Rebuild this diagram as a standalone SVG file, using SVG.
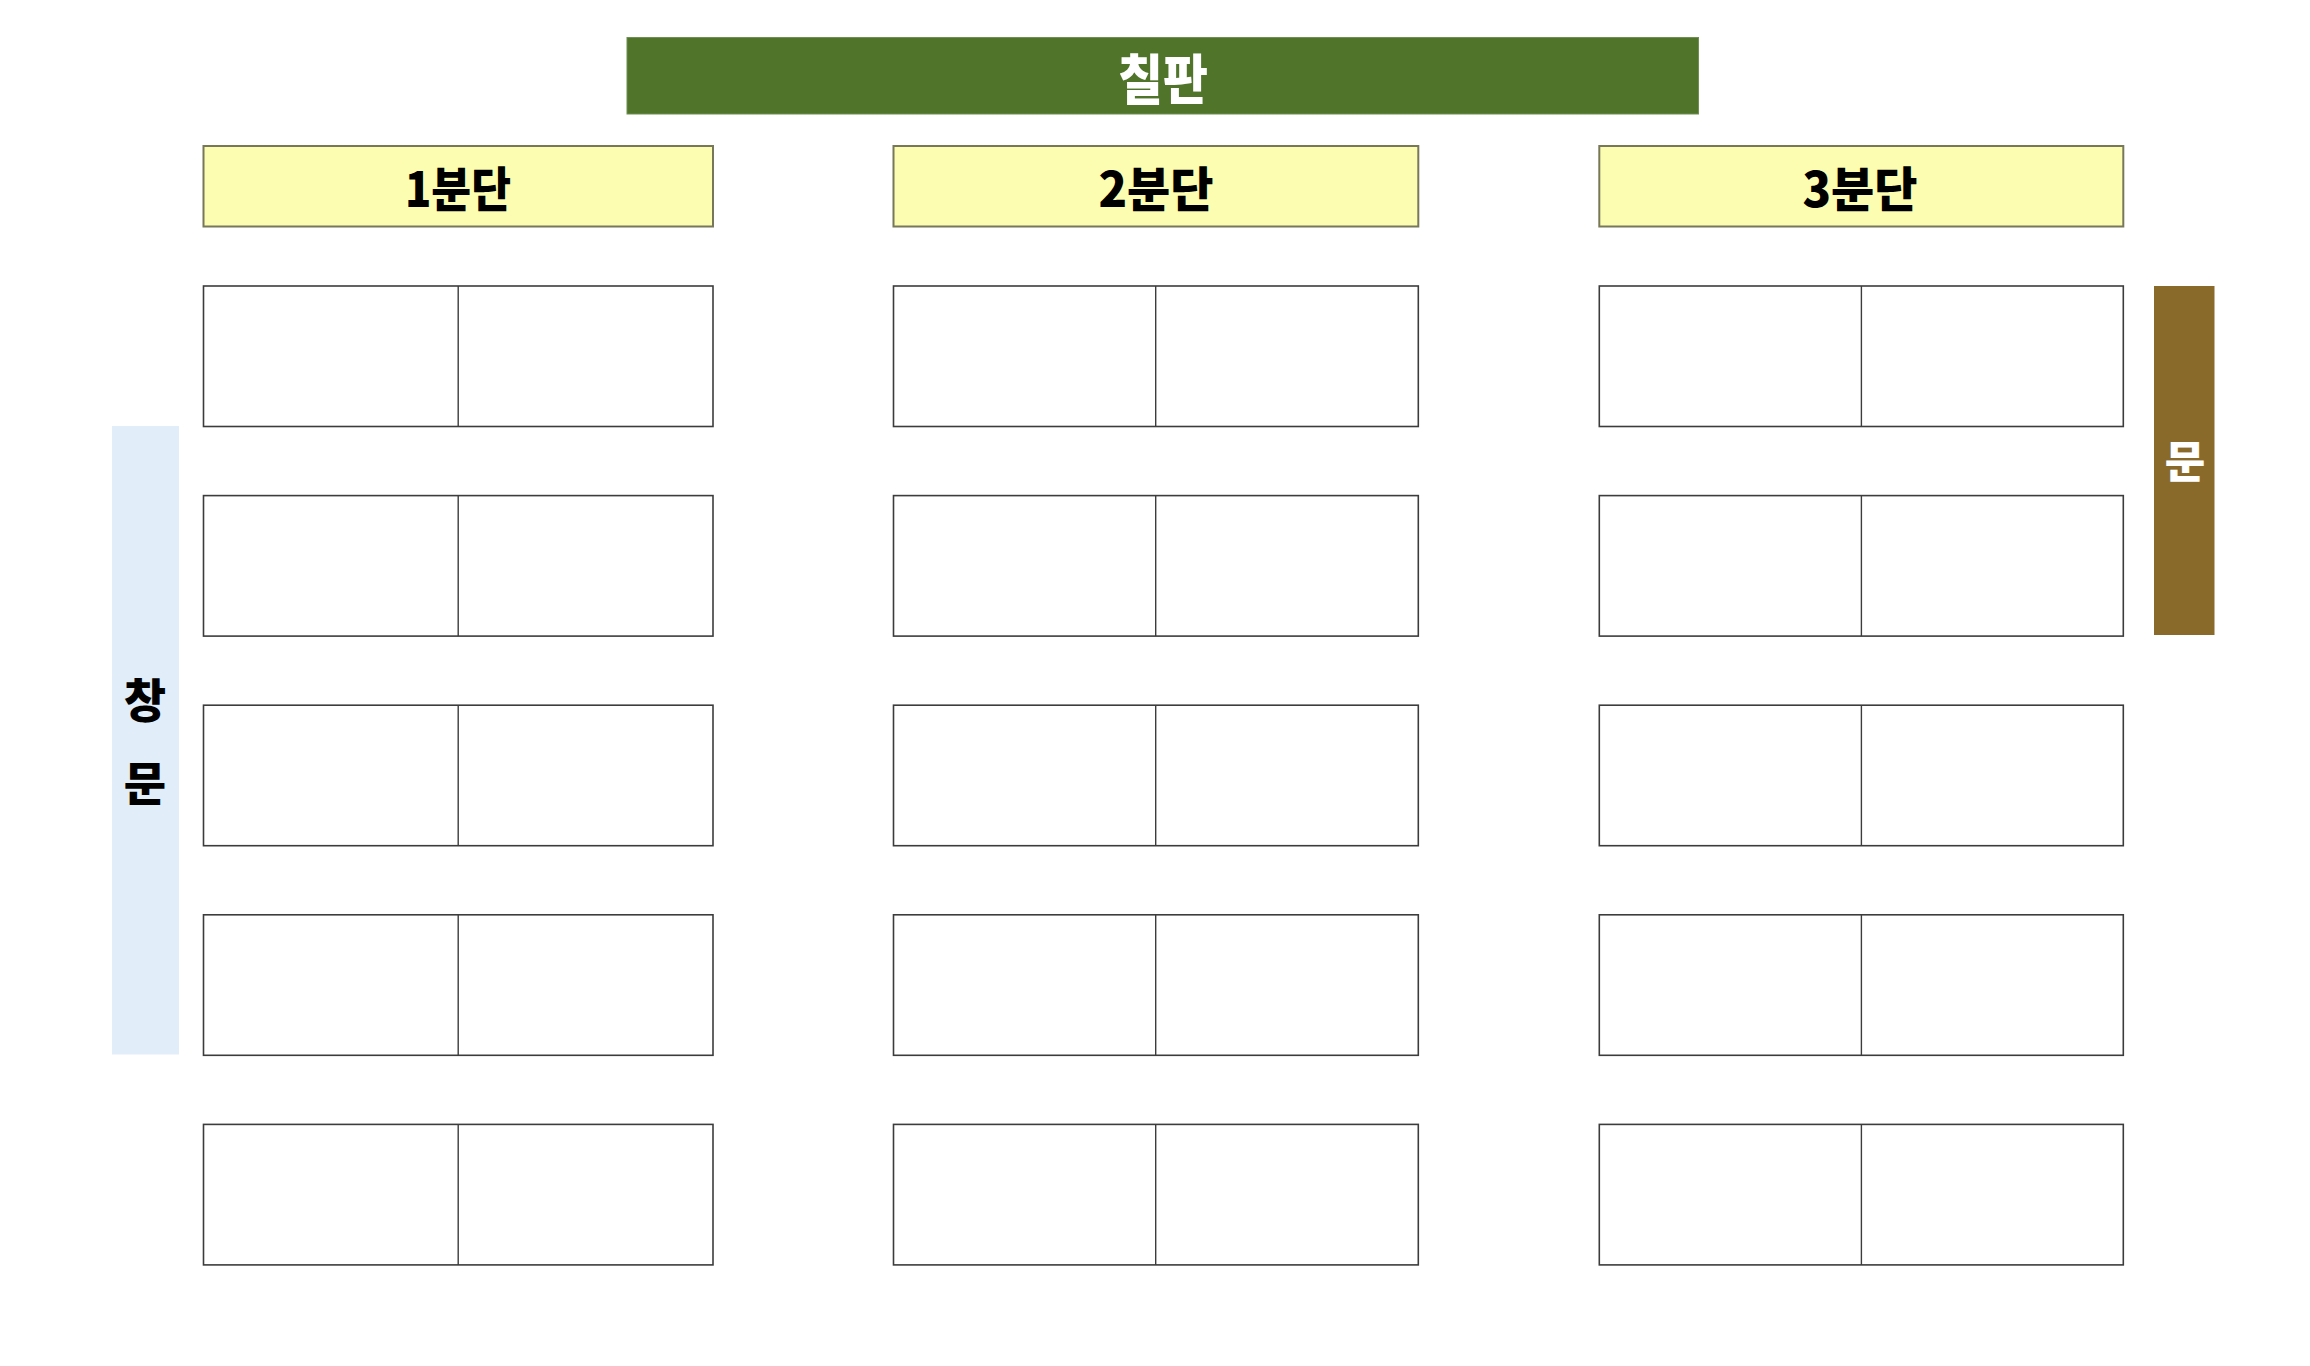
<svg xmlns="http://www.w3.org/2000/svg" width="2310" height="1366" viewBox="0 0 2310 1366">
  <style>
    .desk { fill: #ffffff; stroke: #3c3c3c; stroke-width: 1.6; }
    .split { stroke: #3c3c3c; stroke-width: 1.4; }
    .hdr { fill: #fcfdb0; stroke: #77775a; stroke-width: 2; }
    .hdrtxt { font-family: "Noto Sans CJK KR", "Noto Sans", sans-serif; font-weight: 900; font-size: 48px; fill: #000000; text-anchor: middle; }
    .big { font-family: "Noto Sans CJK KR", "Noto Sans", sans-serif; font-weight: 900; text-anchor: middle; }
  </style>
  <rect x="0" y="0" width="2310" height="1366" fill="#ffffff"/>

  <g id="blackboard">
    <rect x="627" y="37.5" width="1071.5" height="76.5" fill="#4f742a" stroke="#6f9050" stroke-width="1"/>
    <text class="big" x="1163" y="100" font-size="54" fill="#ffffff" textLength="90" lengthAdjust="spacingAndGlyphs">칠판</text>
  </g>

  <g id="header-1">
    <rect class="hdr" x="203.5" y="146" width="509.5" height="80.5"/>
    <text class="hdrtxt" x="458" y="207" textLength="106" lengthAdjust="spacingAndGlyphs">1분단</text>
  </g>
  <g id="header-2">
    <rect class="hdr" x="893.5" y="146" width="524.8" height="80.5"/>
    <text class="hdrtxt" x="1156" y="207" textLength="115" lengthAdjust="spacingAndGlyphs">2분단</text>
  </g>
  <g id="header-3">
    <rect class="hdr" x="1599.3" y="146" width="524" height="80.5"/>
    <text class="hdrtxt" x="1860" y="207" textLength="115" lengthAdjust="spacingAndGlyphs">3분단</text>
  </g>

  <g id="window">
    <rect x="112" y="426" width="67" height="628.5" fill="#e1eefa"/>
    <text class="big" x="145" y="717" font-size="46" fill="#000000">창</text>
    <text class="big" x="145" y="800" font-size="46" fill="#000000">문</text>
  </g>

  <g id="door">
    <rect x="2154" y="286" width="60.5" height="349" fill="#8a6a2b"/>
    <text class="big" x="2185" y="478" font-size="44" fill="#ffffff">문</text>
  </g>

  <g id="desks-1">
    <g id="desk-1-1"><rect class="desk" x="203.5" y="286" width="509.5" height="140.5"/><line class="split" x1="458.2" y1="286" x2="458.2" y2="426.5"/></g>
    <g id="desk-1-2"><rect class="desk" x="203.5" y="495.6" width="509.5" height="140.5"/><line class="split" x1="458.2" y1="495.6" x2="458.2" y2="636.1"/></g>
    <g id="desk-1-3"><rect class="desk" x="203.5" y="705.2" width="509.5" height="140.5"/><line class="split" x1="458.2" y1="705.2" x2="458.2" y2="845.7"/></g>
    <g id="desk-1-4"><rect class="desk" x="203.5" y="914.8" width="509.5" height="140.5"/><line class="split" x1="458.2" y1="914.8" x2="458.2" y2="1055.3"/></g>
    <g id="desk-1-5"><rect class="desk" x="203.5" y="1124.4" width="509.5" height="140.5"/><line class="split" x1="458.2" y1="1124.4" x2="458.2" y2="1264.9"/></g>
  </g>

  <g id="desks-2">
    <g id="desk-2-1"><rect class="desk" x="893.5" y="286" width="524.8" height="140.5"/><line class="split" x1="1155.7" y1="286" x2="1155.7" y2="426.5"/></g>
    <g id="desk-2-2"><rect class="desk" x="893.5" y="495.6" width="524.8" height="140.5"/><line class="split" x1="1155.7" y1="495.6" x2="1155.7" y2="636.1"/></g>
    <g id="desk-2-3"><rect class="desk" x="893.5" y="705.2" width="524.8" height="140.5"/><line class="split" x1="1155.7" y1="705.2" x2="1155.7" y2="845.7"/></g>
    <g id="desk-2-4"><rect class="desk" x="893.5" y="914.8" width="524.8" height="140.5"/><line class="split" x1="1155.7" y1="914.8" x2="1155.7" y2="1055.3"/></g>
    <g id="desk-2-5"><rect class="desk" x="893.5" y="1124.4" width="524.8" height="140.5"/><line class="split" x1="1155.7" y1="1124.4" x2="1155.7" y2="1264.9"/></g>
  </g>

  <g id="desks-3">
    <g id="desk-3-1"><rect class="desk" x="1599.3" y="286" width="524" height="140.5"/><line class="split" x1="1861.4" y1="286" x2="1861.4" y2="426.5"/></g>
    <g id="desk-3-2"><rect class="desk" x="1599.3" y="495.6" width="524" height="140.5"/><line class="split" x1="1861.4" y1="495.6" x2="1861.4" y2="636.1"/></g>
    <g id="desk-3-3"><rect class="desk" x="1599.3" y="705.2" width="524" height="140.5"/><line class="split" x1="1861.4" y1="705.2" x2="1861.4" y2="845.7"/></g>
    <g id="desk-3-4"><rect class="desk" x="1599.3" y="914.8" width="524" height="140.5"/><line class="split" x1="1861.4" y1="914.8" x2="1861.4" y2="1055.3"/></g>
    <g id="desk-3-5"><rect class="desk" x="1599.3" y="1124.4" width="524" height="140.5"/><line class="split" x1="1861.4" y1="1124.4" x2="1861.4" y2="1264.9"/></g>
  </g>

  <g id="connectors"></g>
</svg>
